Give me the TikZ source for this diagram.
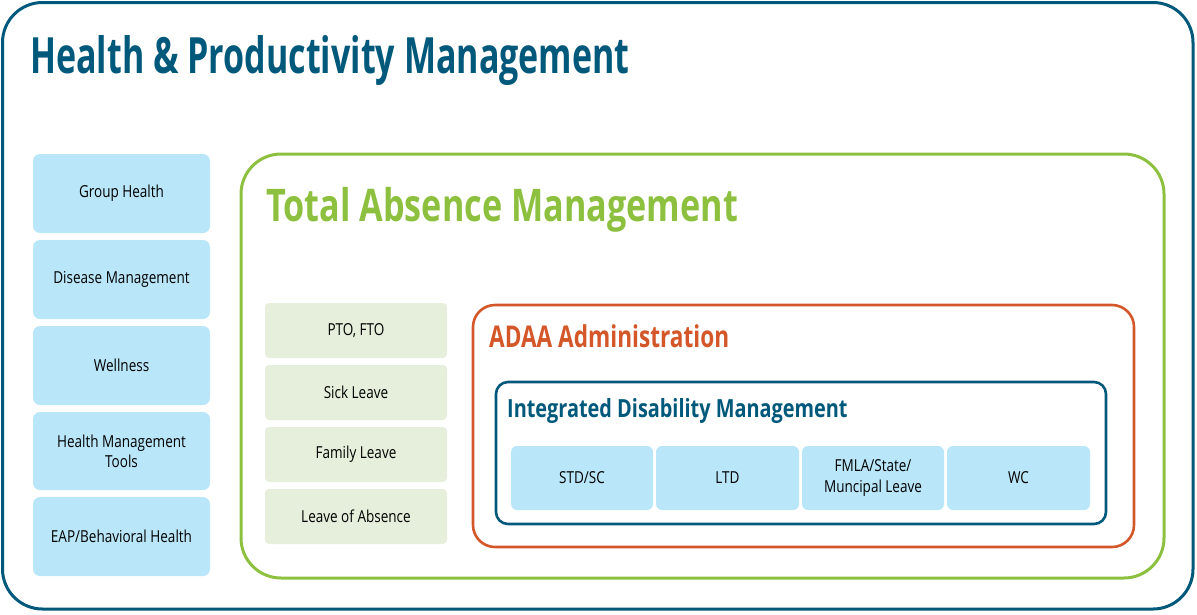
\documentclass[tikz,border=0pt]{standalone}
\usepackage{graphicx}
\usepackage{fontspec}
\setmainfont[FakeStretch=0.82]{Open Sans}
\definecolor{hpm}{HTML}{00587A}
\definecolor{tam}{HTML}{8DC03F}
\definecolor{adaa}{HTML}{D4572A}
\definecolor{lblue}{HTML}{B9E7F9}
\definecolor{lgreen}{HTML}{E5EFDB}
\begin{document}
\begin{tikzpicture}[x=1pt,y=-1pt,
  frame/.style={line width=3pt,rounded corners=#1},
  sidebox/.style={fill=lblue,rounded corners=7pt,draw=none,inner sep=0pt,align=center,font=\fontsize{16.5}{20}\selectfont},
  leavebox/.style={fill=lgreen,rounded corners=4pt,draw=none,inner sep=0pt,align=center,font=\fontsize{16.5}{20}\selectfont},
  idmbox/.style={fill=lblue,rounded corners=6pt,draw=none,inner sep=0pt,align=center,font=\fontsize{16.5}{21}\selectfont},
  ttl/.style={anchor=base west,inner sep=0pt,font=\bfseries}]
\useasboundingbox (0,0) rectangle (1197,614);
% outer
\draw[frame=40pt,draw=hpm] (2.5,2.5) rectangle (1193,609);
\node[ttl,text=hpm,font=\bfseries\fontsize{50}{56}\selectfont] (t1) at (30,73) {\scalebox{0.83}[1]{Health \& Productivity Management}};
% left column
\foreach \n/\ya/\yb/\t in {g1/154/233/{Group Health},g2/240/319/{Disease Management},g3/326/405/{Wellness},g4/412/490/{Health Management\\Tools},g5/497/576/{EAP/Behavioral Health}}{
  \path[sidebox] (33,\ya) rectangle (210,\yb);
  \node[sidebox,fill=none] (\n) at (121.5,{(\ya+\yb)/2}) {\t};
}
% TAM
\draw[frame=40pt,draw=tam] (241,154) rectangle (1164,578);
\node[ttl,text=tam,font=\bfseries\fontsize{45}{50}\selectfont] (t2) at (266,221) {\scalebox{0.927}[1]{Total Absence Management}};
\foreach \n/\ya/\yb/\t in {l1/303/358/{PTO, FTO},l2/365/420/{Sick Leave},l3/427/482/{Family Leave},l4/489/544/{Leave of Absence}}{
  \path[leavebox] (265,\ya) rectangle (447,\yb);
  \node[leavebox,fill=none] (\n) at (356,{(\ya+\yb)/2}) {\t};
}
% ADAA
\draw[frame=22pt,draw=adaa,line width=2.6pt] (473,305) rectangle (1134,547);
\node[ttl,text=adaa,font=\bfseries\fontsize{30}{34}\selectfont] (t3) at (489,347) {\scalebox{0.92}[1]{ADAA Administration}};
% IDM
\draw[frame=12pt,draw=hpm,line width=2.6pt] (496,382) rectangle (1106,524);
\node[ttl,text=hpm,font=\bfseries\fontsize{25}{30}\selectfont] (t4) at (507,417) {\scalebox{0.97}[1]{Integrated Disability Management}};
\foreach \n/\xa/\xb/\t in {d1/511/653/{STD/SC},d2/656/799/{LTD},d3/802/944/{FMLA/State/\\Muncipal Leave},d4/947/1090/{WC}}{
  \path[idmbox] (\xa,446) rectangle (\xb,510);
  \node[idmbox,fill=none] (\n) at ({(\xa+\xb)/2},478) {\t};
}
\end{tikzpicture}
\end{document}
